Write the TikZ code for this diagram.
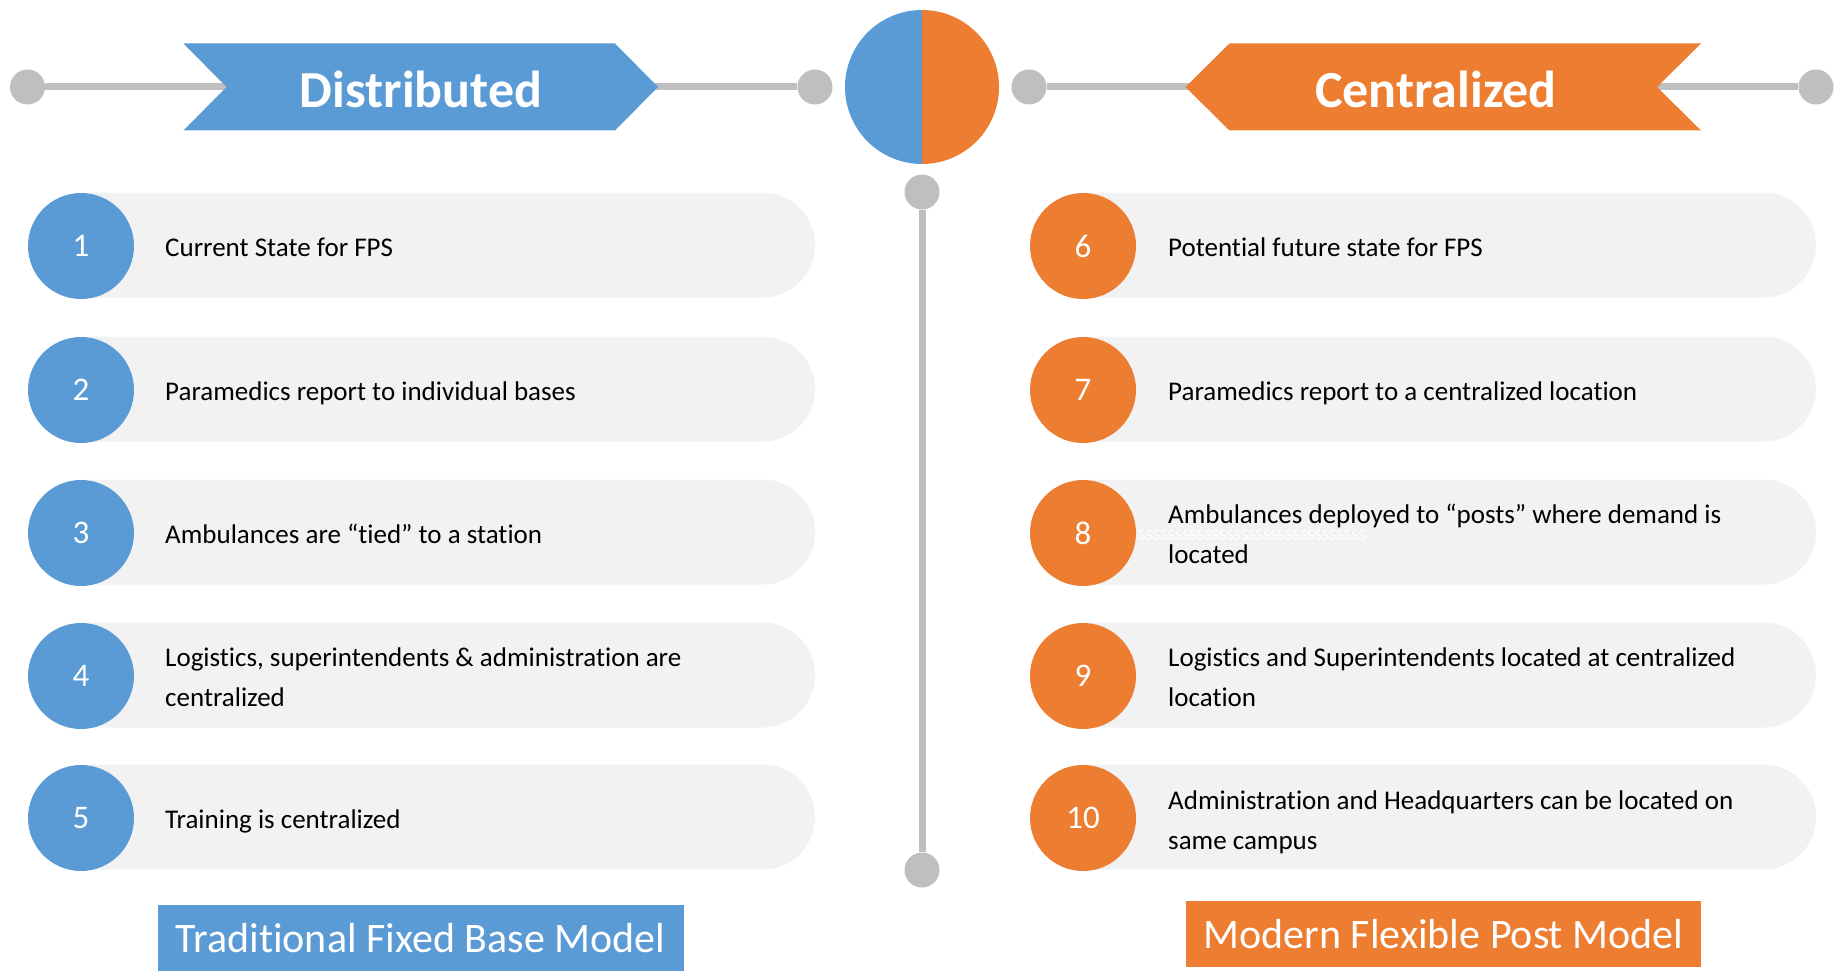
\documentclass[tikz,border=0pt]{standalone}
\usepackage{fontspec}
\setmainfont{Carlito}[Ligatures=NoCommon]
\definecolor{cblue}{HTML}{5B9BD5}
\definecolor{corange}{HTML}{ED7D31}
\definecolor{cgrey}{HTML}{BFBFBF}
\definecolor{cpill}{HTML}{F2F2F2}
\newcommand{\leftpill}[1]{\fill[cpill] (81,#1-52.5) -- (762.5,#1-52.5) arc[start angle=-90,end angle=90,radius=52.5] -- (81,#1+52.5) -- cycle;}
\newcommand{\rightpill}[1]{\fill[cpill] (1083,#1-52.5) -- (1763.5,#1-52.5) arc[start angle=-90,end angle=90,radius=52.5] -- (1083,#1+52.5) -- cycle;}
\begin{document}
\begin{tikzpicture}[x=1pt,y=-1pt,
  dot/.style={circle,fill=cgrey,minimum size=35pt,inner sep=0pt},
  conn/.style={draw=cgrey,line width=7pt},
  numcirc/.style={circle,minimum size=106pt,inner sep=0pt,text=white,font=\fontsize{33}{33}\selectfont},
  itemtext/.style={anchor=base west,align=left,inner sep=0pt,font=\fontsize{27}{40}\selectfont},
  bannertext/.style={text=white,font=\fontsize{52}{52}\selectfont\bfseries,inner sep=0pt},
  labelbox/.style={minimum height=66pt,inner sep=0pt,text=white,font=\fontsize{42}{42}\selectfont}]
\useasboundingbox (0,0) rectangle (1845,979);
\fill[white] (0,0) rectangle (1845,979);

% top lines with dots
\node[dot] (dl1) at (27.5,87) {};
\node[dot] (dl2) at (815,87) {};
\node[dot] (dr1) at (1029,87) {};
\node[dot] (dr2) at (1816,87) {};
\draw[conn] (dl1) -- (dl2);
\draw[conn] (dr1) -- (dr2);

% banners
\fill[cblue] (183.5,43.5) -- (615,43.5) -- (658,87) -- (615,130.5) -- (183.5,130.5) -- (226.5,87) -- cycle;
\fill[corange] (1229.5,43.5) -- (1701,43.5) -- (1657,87) -- (1701,130.5) -- (1229.5,130.5) -- (1185.5,87) -- cycle;
\node[bannertext] (bd) at (421,89) {Distributed};
\node[bannertext] (bc) at (1436,89) {Centralized};

% central circle
\fill[cblue] (922,10) arc[start angle=-90,end angle=-270,radius=77] -- cycle;
\fill[corange] (922,10) arc[start angle=-90,end angle=90,radius=77] -- cycle;

% vertical line
\node[dot] (vt) at (922,192) {};
\node[dot] (vb) at (922,870) {};
\draw[conn] (vt) -- (vb);

% pills
\leftpill{245} \leftpill{389} \leftpill{532} \leftpill{675} \leftpill{817}
\rightpill{245} \rightpill{389} \rightpill{532} \rightpill{675} \rightpill{817}

% left items
\node[numcirc,fill=cblue] (c1) at (81,246) {1};
\node[numcirc,fill=cblue] (c2) at (81,390) {2};
\node[numcirc,fill=cblue] (c3) at (81,533) {3};
\node[numcirc,fill=cblue] (c4) at (81,676) {4};
\node[numcirc,fill=cblue] (c5) at (81,818) {5};
\node[itemtext] (t1) at (165,256.5) {Current State for FPS};
\node[itemtext] (t2) at (165,400.5) {Paramedics report to individual bases};
\node[itemtext] (t3) at (165,543.5) {Ambulances are “tied” to a station};
\node[itemtext] (t4) at (165,706.5) {Logistics, superintendents \& administration are\\centralized};
\node[itemtext] (t5) at (165,828.5) {Training is centralized};

% right items
\node[numcirc,fill=corange] (c6) at (1083,246) {6};
\node[numcirc,fill=corange] (c7) at (1083,390) {7};
\node[numcirc,fill=corange] (c8) at (1083,533) {8};
\node[numcirc,fill=corange] (c9) at (1083,676) {9};
\node[numcirc,fill=corange] (c10) at (1083,818) {10};
\node[itemtext] (t6) at (1168,256.5) {Potential future state for FPS};
\node[itemtext] (t7) at (1168,400.5) {Paramedics report to a centralized location};
\node[itemtext] (t8) at (1168,563) {Ambulances deployed to “posts” where demand is\\located};
\node[anchor=west,inner sep=0pt,text=white,font=\fontsize{16}{16}\selectfont] (ss) at (1138,535) {SSSSSSSSSSSSSSSSSSSSSSSSSSSSSSS};
\node[itemtext] (t9) at (1168,706.5) {Logistics and Superintendents located at centralized\\location};
\node[itemtext] (t10) at (1168,849) {Administration and Headquarters can be located on\\same campus};

% bottom labels
\node[labelbox,fill=cblue,minimum width=526pt] (lb) at (420.5,938) {Traditional Fixed Base Model};
\node[labelbox,fill=corange,minimum width=515pt] (lo) at (1443.5,934) {Modern Flexible Post Model};
\end{tikzpicture}
\end{document}
